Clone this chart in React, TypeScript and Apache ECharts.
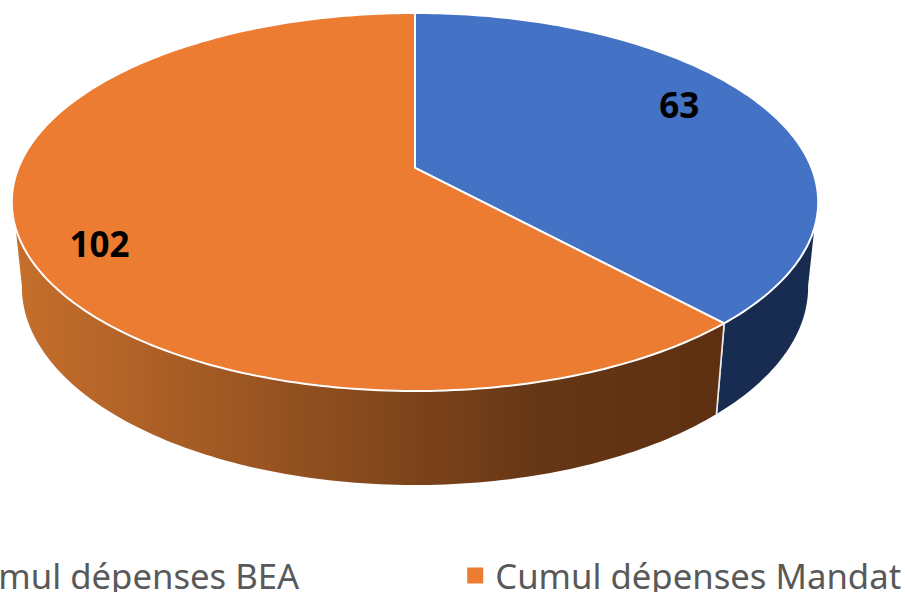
import React, { useEffect, useRef } from "react";
import * as echarts from "echarts";

const categories = ["Cumul dépenses BEA", "Cumul dépenses Mandat"];
const values = [63, 102];
const topColors = ["#4472c4", "#eb7c31"];
const total = values.reduce((a, b) => a + b, 0);

// Perspective of the disc: a unit circle projected on the page
const TILT = 0.18;
const CX = 415;
const TOP = { cy: 202, a: 396.6, b: 189 };
const BOTTOM = { cy: 287, a: 386.7, b: 198 };
const RAD = Math.PI / 180;

type Ell = { cy: number; a: number; b: number };
const project = (e: Ell, deg: number, r = 1): number[] => {
  const u = r * Math.sin(deg * RAD);
  const v = r * Math.cos(deg * RAD);
  const den = 1 + TILT * v;
  return [CX + (e.a * u) / den, e.cy - (e.b * (v + TILT)) / den];
};
const arc = (e: Ell, from: number, to: number): number[][] => {
  const pts: number[][] = [];
  const n = Math.max(2, Math.ceil(Math.abs(to - from)));
  for (let i = 0; i <= n; i++) pts.push(project(e, from + ((to - from) * i) / n));
  return pts;
};

const WALL_FROM_TOP = 108; // silhouette angle on the upper rim
const WALL_FROM_BOTTOM = 100; // silhouette angle on the lower rim
const LABEL_SHIFT = 6.1;
const LABEL_RADII = [0.8, 0.834];

const wallFills = (i: number) =>
  i === 0
    ? "#172c50"
    : new echarts.graphic.LinearGradient(
        14, 0, 716, 0,
        [
          { offset: 0, color: "#c66f2c" },
          { offset: 0.75, color: "#663615" },
          { offset: 1, color: "#5e3011" },
        ],
        true
      );

const makeRender = (i: number) => (_: any, api: any) => {
  const val = api.value(0);
  const before = values.slice(0, i).reduce((a, b) => a + b, 0);
  const start = (before / total) * 360;
  const end = start + (val / total) * 360;
  const mid = (start + end) / 2;

  const wallStart = Math.max(start, i === 0 ? WALL_FROM_TOP : start);
  const wallEnd = Math.min(end, i === 1 ? 360 - WALL_FROM_TOP : end);
  const lowStart = i === 0 ? WALL_FROM_BOTTOM : start;
  const lowEnd = i === 1 ? 360 - WALL_FROM_BOTTOM : end;

  const wallPoints = [...arc(TOP, wallStart, wallEnd), ...arc(BOTTOM, lowEnd, lowStart)];
  const topPoints = [[CX, project(TOP, 0, 0)[1]], ...arc(TOP, start, end)];
  const labelPos = project(TOP, mid - LABEL_SHIFT, LABEL_RADII[i]);
  const splitA = project(TOP, i === 0 ? end : start);
  const splitB = project(BOTTOM, i === 0 ? end : start);

  return {
    type: "group",
    children: [
      { type: "polygon", shape: { points: wallPoints }, style: { fill: wallFills(i) } },
      {
        type: "line",
        shape: { x1: splitA[0], y1: splitA[1], x2: splitB[0], y2: splitB[1] },
        style: { stroke: "#e8e8e8", lineWidth: 1.6 },
      },
      {
        type: "polygon",
        shape: { points: topPoints },
        style: { fill: topColors[i], stroke: "#ffffff", lineWidth: 2, lineJoin: "round" },
      },
      {
        type: "text",
        x: labelPos[0],
        y: labelPos[1],
        style: {
          text: String(val),
          fill: "#000000",
          font: 'bold 35px "Noto Sans"',
          align: "center",
          verticalAlign: "middle",
        },
      },
    ],
  };
};

export default function App() {
  const ref = useRef<HTMLDivElement>(null);
  useEffect(() => {
    const chart = echarts.init(ref.current!, null, { renderer: "svg" });
    chart.setOption({
      animation: false,
      backgroundColor: "#ffffff",
      legend: {
        data: categories,
        orient: "horizontal",
        left: -73,
        top: 558,
        width: 1200,
        padding: 0,
        itemGap: 168,
        itemWidth: 16,
        itemHeight: 16,
        icon: "rect",
        textStyle: {
          color: "#595959",
          fontFamily: "Noto Sans",
          fontSize: 34.7,
          padding: [0, 0, 0, 7],
        },
      },
      series: categories.map((name, i) => ({
        type: "custom",
        name,
        coordinateSystem: "none",
        silent: true,
        itemStyle: { color: topColors[i] },
        data: [[values[i]]],
        renderItem: makeRender(i),
      })),
    });
    return () => chart.dispose();
  }, []);
  return (
    <div
      ref={ref}
      style={{ position: "absolute", left: 0, top: 0, width: 905, height: 592, overflow: "hidden" }}
    />
  );
}
